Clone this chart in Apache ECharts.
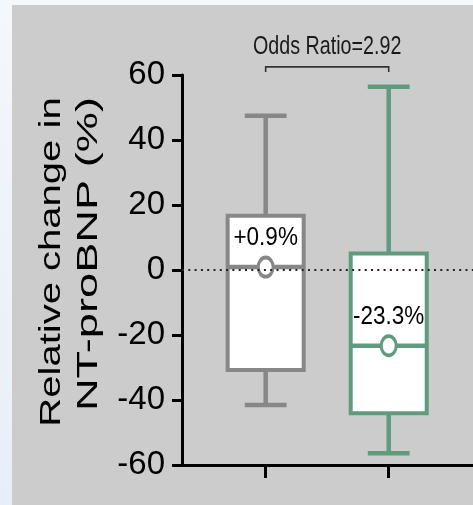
<!DOCTYPE html>
<html>
<head>
<meta charset="utf-8">
<script src="https://cdn.jsdelivr.net/npm/echarts@6/dist/echarts.min.js"></script>
<style>
  html, body { margin: 0; padding: 0; }
  body { width: 473px; height: 505px; position: relative; overflow: hidden;
         background: linear-gradient(#f4f7fb, #e8eef8); }
  #panel { position: absolute; left: 12px; top: 5px; right: 0; bottom: 0; background: #cccccc; }
  #chart { position: absolute; left: 0; top: 0; width: 473px; height: 505px; }
</style>
</head>
<body>
<div id="panel"></div>
<div id="chart"></div>
<script>
// Two groups, box-and-whisker summary of relative NT-proBNP change (%)
const groups = ['Group 1', 'Group 2'];
const positions = [1, 2];
const whiskerHigh = [47.5, 56.4];
const q3 = [16.7, 5.1];
const median = [0.9, -23.3];
const q1 = [-30.8, -44.1];
const whiskerLow = [-41.5, -56.4];
const mean = [0.9, -23.3];
const yTicks = [-60, -40, -20, 0, 20, 40, 60];
const oddsRatio = 2.92;
const bracketLevel = 62.5;

const palette = ['#878787', '#5f9b7c'];

function fmtPct(v) {
  return (v > 0 ? '+' : '') + v.toFixed(1) + '%';
}

const boxData = positions.map((p, i) => [p, whiskerLow[i], q1[i], median[i], q3[i], whiskerHigh[i], mean[i]]);

function renderBox(params, api) {
  const i = params.dataIndex;
  const color = palette[i];
  const x = api.value(0);
  const unit = api.size([1, 0])[0];
  const halfBox = unit * 0.309;
  const halfCap = unit * 0.17;
  const pLow = api.coord([x, api.value(1)]);
  const pQ1 = api.coord([x, api.value(2)]);
  const pMed = api.coord([x, api.value(3)]);
  const pQ3 = api.coord([x, api.value(4)]);
  const pHigh = api.coord([x, api.value(5)]);
  const pMean = api.coord([x, api.value(6)]);
  const cx = pMed[0];
  const lw = 4.5;
  const stroke = { stroke: color, lineWidth: lw, fill: null };
  return {
    type: 'group',
    children: [
      { type: 'line', shape: { x1: cx, y1: pQ3[1], x2: cx, y2: pHigh[1] }, style: stroke },
      { type: 'line', shape: { x1: cx, y1: pQ1[1], x2: cx, y2: pLow[1] }, style: stroke },
      { type: 'line', shape: { x1: cx - halfCap, y1: pHigh[1], x2: cx + halfCap, y2: pHigh[1] }, style: stroke },
      { type: 'line', shape: { x1: cx - halfCap, y1: pLow[1], x2: cx + halfCap, y2: pLow[1] }, style: stroke },
      { type: 'rect', shape: { x: cx - halfBox, y: pQ3[1], width: halfBox * 2, height: pQ1[1] - pQ3[1] },
        style: { stroke: color, lineWidth: 4, fill: '#ffffff' } },
      { type: 'line', shape: { x1: cx - halfBox, y1: pMed[1], x2: cx + halfBox, y2: pMed[1] }, style: stroke },
      { type: 'circle', x: pMean[0], y: pMean[1], scaleY: 1.28,
        shape: { cx: 0, cy: 0, r: 7.5 }, style: { stroke: color, lineWidth: 3, fill: '#ffffff' } },
      { type: 'text', x: pMean[0], y: pMean[1] - 29, scaleY: 1.15,
        style: { text: fmtPct(api.value(6)), fontFamily: '"Liberation Sans", Arial, sans-serif', fontSize: 22.5,
                 fill: '#000000', align: 'center', verticalAlign: 'middle' } }
    ]
  };
}

function renderBracket(params, api) {
  const a = api.coord([api.value(0), api.value(2)]);
  const b = api.coord([api.value(1), api.value(2)]);
  const drop = 5;
  return {
    type: 'group',
    children: [
      { type: 'polyline', shape: { points: [[a[0], a[1] + drop], [a[0], a[1]], [b[0], b[1]], [b[0], b[1] + drop]] },
        style: { stroke: '#333333', lineWidth: 1.6, fill: null } },
      { type: 'text', x: (a[0] + b[0]) / 2, y: a[1] - 20, scaleY: 1.35,
        style: { text: 'Odds Ratio=' + oddsRatio.toFixed(2), fontFamily: '"Liberation Sans", Arial, sans-serif',
                 fontSize: 19.7, fill: '#1a1a1a', align: 'center', verticalAlign: 'middle' } }
    ]
  };
}

const chart = echarts.init(document.getElementById('chart'), null, { renderer: 'canvas' });
chart.setOption({
  backgroundColor: 'transparent',
  animation: false,
  grid: { left: 182, right: 0, top: 75, bottom: 40 },
  xAxis: {
    type: 'value', min: 0.32, max: 2.685,
    axisLine: { onZero: false, lineStyle: { color: '#000000', width: 3 } },
    axisTick: { show: true, length: 13, lineStyle: { color: '#000000', width: 3 }, customValues: positions },
    axisLabel: { show: false },
    splitLine: { show: false }
  },
  yAxis: {
    type: 'value', min: yTicks[0], max: yTicks[yTicks.length - 1], interval: 20,
    axisLine: { show: true, lineStyle: { color: '#000000', width: 3 } },
    axisTick: { show: true, length: 10, lineStyle: { color: '#000000', width: 3 } },
    axisLabel: { color: '#000000', fontSize: 33, margin: 17,
                 fontFamily: '"Liberation Sans Narrow", "Arial Narrow", "Liberation Sans", sans-serif' },
    splitLine: { show: false }
  },
  graphic: [
    { type: 'text', x: 52, y: 262, rotation: Math.PI / 2, scaleX: 1.38,
      style: { text: 'Relative change in', fontFamily: '"Liberation Sans", Arial, sans-serif', fontSize: 29,
               fill: '#000000', align: 'center', verticalAlign: 'middle' } },
    { type: 'text', x: 89, y: 254, rotation: Math.PI / 2, scaleX: 1.56,
      style: { text: 'NT-proBNP (%)', fontFamily: '"Liberation Sans", Arial, sans-serif', fontSize: 29,
               fill: '#000000', align: 'center', verticalAlign: 'middle' } }
  ],
  series: [
    {
      type: 'line', data: [], z: 1, silent: true,
      markLine: { symbol: 'none', silent: true, label: { show: false },
                  lineStyle: { color: '#222222', width: 2, type: [2, 4.3] },
                  data: [{ yAxis: 0 }] }
    },
    { type: 'custom', name: 'box', z: 3, clip: false, renderItem: renderBox, data: boxData },
    { type: 'custom', name: 'bracket', z: 3, clip: false, renderItem: renderBracket,
      data: [[positions[0], positions[1], bracketLevel]] }
  ]
});
</script>
</body>
</html>
